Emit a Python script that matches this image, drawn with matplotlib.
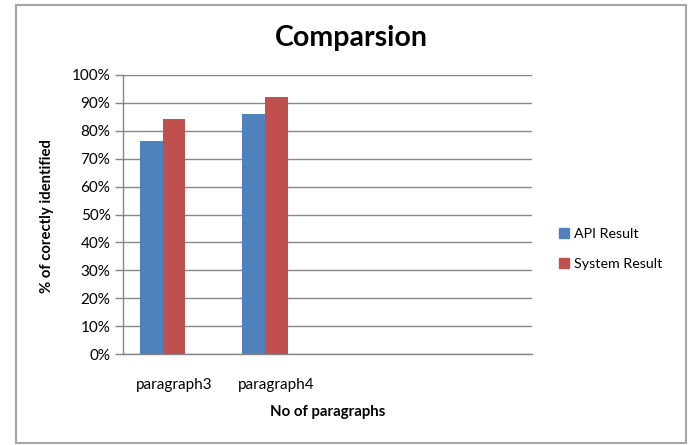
import matplotlib
matplotlib.use("Agg")
import matplotlib.pyplot as plt
from matplotlib.patches import Rectangle, Patch
import numpy as np

categories = ["paragraph3", "paragraph4", "", ""]
api_result = [76.4, 86.0, np.nan, np.nan]
system_result = [84.2, 92.2, np.nan, np.nan]
yticks = [0, 10, 20, 30, 40, 50, 60, 70, 80, 90, 100]
ytick_labels = [f"{v}%" for v in yticks]

plt.rcParams['font.family'] = ['Lato', 'DejaVu Sans']

fig = plt.figure(figsize=(6.91, 4.45), dpi=100)
fig.patch.set_facecolor("white")

# chart border
fig.add_artist(Rectangle((16/691, 1 - 443/445), (686-16)/691, (443-5)/445,
                         transform=fig.transFigure, fill=False,
                         edgecolor="#a6a6a6", linewidth=1.5))

ax = fig.add_axes([123/691, (445-354)/445, (532-123)/691, (354-75)/445])

x = np.arange(len(categories))
w = 1/4.5
ax.bar(x - w, api_result, width=w, color="#4F81BD", label="API Result", zorder=3)
ax.bar(x, system_result, width=w, color="#C0504D", label="System Result", zorder=3)

ax.set_xlim(-0.5, len(categories) - 0.5)
ax.set_ylim(0, 100)
ax.set_yticks(yticks)
ax.set_yticklabels(ytick_labels, fontsize=11)
ax.set_xticks(x)
ax.set_xticklabels(categories, fontsize=11)
ax.tick_params(axis='x', length=0, pad=17)
ax.tick_params(axis='y', length=6, color="#868686", width=1, pad=3)

ax.yaxis.grid(True, color="#868686", linewidth=1, zorder=0)
for s in ["top", "right"]:
    ax.spines[s].set_visible(False)
ax.spines["left"].set_color("#868686")
ax.spines["bottom"].set_color("#868686")
ax.spines["left"].set_linewidth(1)
ax.spines["bottom"].set_linewidth(1)

fig.text(351/691, 1 - 38/445, "Comparsion", ha="center", va="center",
         fontsize=20.5, fontweight="bold")
fig.text(47/691, 1 - 216/445, "% of corectly identified", ha="center", va="center",
         rotation=90, fontsize=10.7, fontweight="bold")
fig.text(328/691, 1 - 412/445, "No of paragraphs", ha="center", va="center",
         fontsize=10.8, fontweight="bold")

handles = [Patch(color="#4F81BD", label="API Result"),
           Patch(color="#C0504D", label="System Result")]
fig.legend(handles=handles, loc="center left", bbox_to_anchor=(546/691, 1 - 249/445),
           frameon=False, fontsize=10.3, handlelength=0.7, handleheight=0.7,
           handletextpad=0.35, labelspacing=1.2)

fig.savefig("out.png", dpi=100)
